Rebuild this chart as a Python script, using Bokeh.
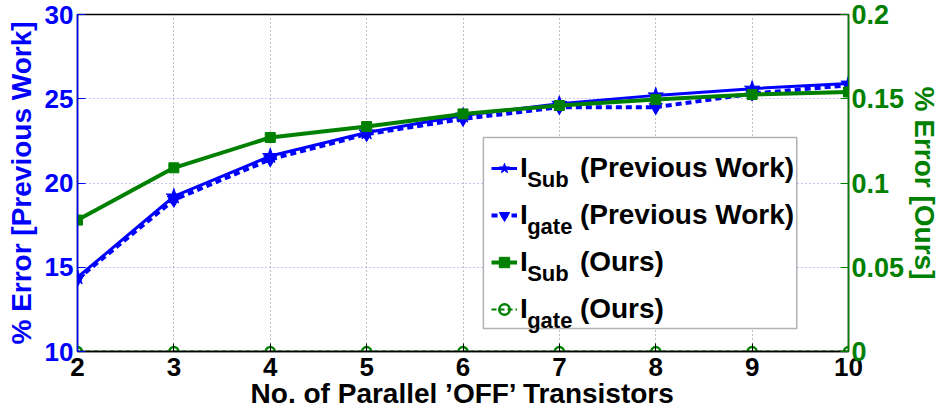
from bokeh.plotting import figure
from bokeh.models import (Range1d, LinearAxis, FixedTicker, NumeralTickFormatter,
                          Legend, LegendItem, Label, BoxAnnotation)
from bokeh.embed import file_html
from bokeh.resources import INLINE

# ---- data ----
n_transistors = [2, 3, 4, 5, 6, 7, 8, 9, 10]
isub_prev = [14.4, 19.2, 21.6, 23.0, 24.0, 24.7, 25.2, 25.6, 25.9]
igate_prev = [14.3, 19.0, 21.4, 22.9, 23.8, 24.5, 24.5, 25.3, 25.8]
isub_ours = [0.078, 0.109, 0.127, 0.1335, 0.141, 0.146, 0.1495, 0.1525, 0.154]
igate_ours = [0, 0, 0, 0, 0, 0, 0, 0, 0]
left_ticks = [10, 15, 20, 25, 30]
right_ticks = [0, 0.05, 0.1, 0.15, 0.2]

FONT = "Liberation Sans"
BLUE = "#0000ff"
GREEN = "#008000"
TOP = 14
BOTTOM = 351
LEFT = 77
RIGHT = 852

p = figure(width=943, height=417, output_backend="svg", toolbar_location=None,
           x_range=Range1d(2, 10), y_range=Range1d(10, 30),
           min_border_left=LEFT, min_border_right=943 - RIGHT, min_border_top=TOP,
           min_border_bottom=417 - BOTTOM)
p.extra_y_ranges = {"right": Range1d(0, 0.2)}
p.outline_line_color = "black"
p.outline_line_width = 1.5
p.background_fill_color = "white"
p.border_fill_color = "white"

def style_axis(ax, color, size):
    ax.axis_line_color = color
    ax.axis_line_width = 1.5
    ax.major_tick_line_color = color
    ax.major_tick_in = 8
    ax.major_tick_out = 0
    ax.minor_tick_line_color = None
    ax.major_label_text_color = color
    ax.major_label_text_font = FONT
    ax.major_label_text_font_style = "bold"
    ax.major_label_text_font_size = size
    ax.axis_label_text_color = color
    ax.axis_label_text_font = FONT
    ax.axis_label_text_font_style = "bold"
    ax.axis_label_text_font_size = "28px"

xa = p.xaxis[0]
xa.ticker = FixedTicker(ticks=n_transistors)
xa.axis_label = "No. of Parallel \u2019OFF\u2019 Transistors"
style_axis(xa, "black", "26px")
xa.major_label_standoff = 6
xa.axis_label_standoff = -1

ya = p.yaxis[0]
ya.ticker = FixedTicker(ticks=left_ticks)
ya.axis_label = "% Error [Previous Work]"
style_axis(ya, BLUE, "26px")
ya.major_label_standoff = 4
ya.axis_label_standoff = 5

ra = LinearAxis(y_range_name="right", ticker=FixedTicker(ticks=right_ticks),
                formatter=NumeralTickFormatter(format="0.[00]"),
                axis_label="% Error [Ours]")
style_axis(ra, GREEN, "27px")
ra.major_label_standoff = 3
ra.axis_label_standoff = 2
p.add_layout(ra, "right")

p.xgrid.grid_line_color = "#7f7f7f"
p.xgrid.grid_line_dash = "1 3"
p.xgrid.grid_line_width = 1
p.ygrid.grid_line_color = "#8c8cff"
p.ygrid.grid_line_dash = "1 3"
p.ygrid.grid_line_width = 1

# ---- legend frame (white box under the legend) ----
def sx_to_x(px):
    return 2 + (px - LEFT) * 8 / (RIGHT - LEFT)

def sy_to_y(py):
    return 10 + (BOTTOM - py) * 20 / (BOTTOM - TOP)

p.add_layout(BoxAnnotation(left=sx_to_x(485), right=sx_to_x(800), top=sy_to_y(137),
                           bottom=sy_to_y(328), fill_color="white", fill_alpha=1.0,
                           line_color="black", line_width=1.5, level="underlay",
                           editable=False))

# ---- series ----
r1l = p.line(n_transistors, isub_prev, line_color=BLUE, line_width=3)
r1m = p.scatter(n_transistors, isub_prev, marker="star", size=16, fill_color=BLUE, line_color=BLUE)
r2l = p.line(n_transistors, igate_prev, line_color=BLUE, line_width=4, line_dash="6 4")
r2m = p.scatter(n_transistors, igate_prev, marker="inverted_triangle", size=13, fill_color=BLUE, line_color=BLUE)
r3l = p.line(n_transistors, isub_ours, line_color=GREEN, line_width=4, y_range_name="right")
r3m = p.scatter(n_transistors, isub_ours, marker="square", size=10, fill_color=GREEN, line_color=GREEN,
                y_range_name="right")
r4l = p.line(n_transistors, igate_ours, line_color=GREEN, line_width=2, line_dash="5 3", y_range_name="right")
r4m = p.scatter(n_transistors, igate_ours, marker="circle", size=9, fill_color=None, line_color=GREEN,
                line_width=2.5, y_range_name="right")

# ---- legend ----
gap = "\u2002\u2002\u2002\u00a0\u200a"
legend = Legend(items=[
    LegendItem(label="I" + gap + "(Previous Work)", renderers=[r1l, r1m]),
    LegendItem(label="I" + gap + "(Previous Work)", renderers=[r2l, r2m]),
    LegendItem(label="I" + gap + "(Ours)", renderers=[r3l, r3m]),
    LegendItem(label="I" + gap + "(Ours)", renderers=[r4l, r4m]),
], location=(414, 23), padding=6, spacing=9, glyph_width=26, glyph_height=38,
   label_height=38, label_standoff=3, margin=0,
   label_text_font=FONT, label_text_font_style="bold", label_text_font_size="28px",
   label_text_color="black",
   border_line_color=None, background_fill_alpha=0.0)
p.add_layout(legend, "center")

subs = ["Sub", "gate", "Sub", "gate"]
for i, s in enumerate(subs):
    centre = 162 + 47 * i
    p.add_layout(Label(x=sx_to_x(529), y=sy_to_y(centre + 17),
                       text=s, text_font=FONT, text_font_style="bold", text_font_size="22px",
                       text_color="black", text_baseline="alphabetic", text_align="left",
                       level="overlay"))

open("out.html", "w").write(file_html(p, INLINE))
